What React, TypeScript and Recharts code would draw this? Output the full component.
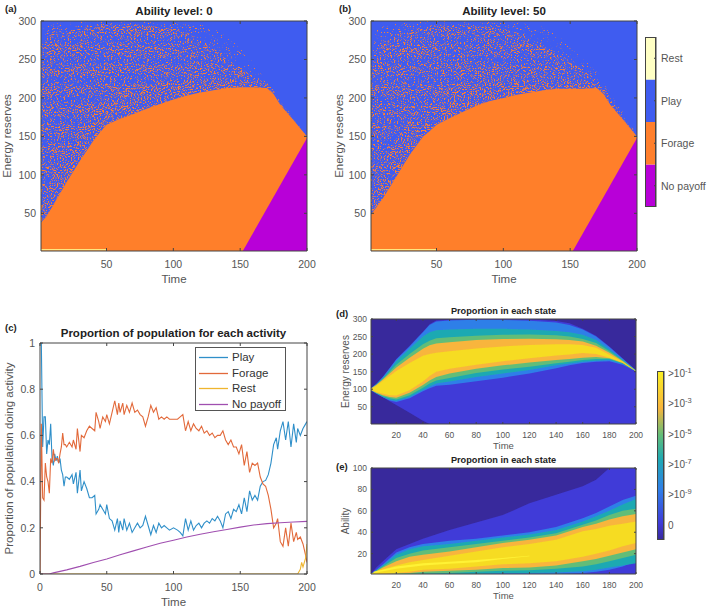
import React from 'react';
import { ComposedChart, BarChart, Bar, Area, Line, XAxis, YAxis, Legend } from 'recharts';

// ---------- panels (a) and (b): decision regions ----------
const policyTimes = [1, 5, 10, 15, 20, 25, 30, 35, 40, 45, 50, 60, 70, 80, 90, 100, 110, 120, 130, 140, 150, 160, 170, 175, 180, 190, 200];
const aForageTop = [38, 46, 60, 75, 90, 104, 118, 131, 144, 155, 165, 173, 179, 186, 192, 198, 203, 207, 210, 213, 214, 214, 213, 205, 191, 171, 150];
const aDenseTop = [70, 85, 105, 125, 140, 152, 162, 175, 185, 195, 200, 208, 212, 216, 220, 222, 224, 225, 226, 226, 225, 222, 217, 208, 193, 171, 150];
const aMidTop = [270, 280, 285, 285, 285, 288, 290, 292, 294, 296, 296, 295, 296, 294, 292, 290, 285, 275, 265, 250, 240, 228, 219, 210, 195, 172, 151];
const aSparseTop = [285, 295, 296, 297, 298, 298, 299, 299, 300, 300, 300, 300, 300, 300, 299, 299, 298, 297, 290, 280, 265, 245, 222, 212, 197, 174, 152];
const bForageTop = [48, 58, 70, 84, 98, 112, 126, 138, 150, 157, 165, 174, 182, 190, 196, 200, 204, 207, 210, 212, 212, 212, 213, 205, 191, 171, 150];
const bDenseTop = [80, 95, 115, 132, 148, 160, 172, 185, 192, 200, 205, 212, 218, 222, 225, 228, 229, 229, 229, 228, 226, 222, 217, 208, 193, 172, 150];
const bMidTop = [240, 265, 275, 280, 283, 285, 288, 290, 292, 294, 295, 295, 296, 294, 292, 290, 285, 278, 268, 258, 248, 235, 224, 214, 200, 175, 151];
const bSparseTop = [250, 288, 293, 295, 296, 297, 298, 299, 300, 300, 300, 300, 300, 300, 300, 299, 298, 296, 292, 282, 268, 250, 234, 220, 205, 180, 152];
const payoffEdgeTimes = [152, 200];
const payoffEdgeTop = [1, 148];
const restStripTimes = [1, 50];
const restStripLevel = [2.5, 2.5];
const activityNames = ['No payoff', 'Forage', 'Play', 'Rest'];

// ---------- panel (c): proportions ----------
const cTimes = [0, 1, 2, 3, 4, 5, 6, 7, 8, 9, 10, 11, 12, 13, 14, 15, 16, 17, 18, 19,
  20, 22, 24, 25, 27, 28, 30, 31, 33, 35, 37, 39, 41, 42, 44, 45, 47, 49, 50, 52,
  54, 56, 58, 59, 60, 62, 63, 65, 67, 69, 71, 73, 75, 77, 79, 81, 83, 85, 87, 89,
  91, 93, 95, 97, 100, 103, 105, 107, 109, 111, 113, 115, 117, 119, 121, 123, 125, 127, 129, 131,
  133, 135, 137, 139, 141, 143, 145, 147, 149, 151, 153, 155, 157, 159, 161, 163, 165, 167, 169, 171,
  173, 175, 177, 178, 180, 182, 184, 186, 188, 190, 192, 193, 195, 197, 199, 200];
const playShare = [1, 1, .55, .68, .68, .52, .58, .56, .65, .5, .47, .52, .49, .51, .48, .5, .45, .43, .38, .42,
  .42, .41, .43, .39, .44, .35, .45, .36, .40, .37, .33, .33, .34, .26, .28, .30, .28, .26, .30, .24,
  .23, .19, .24, .18, .23, .19, .24, .19, .22, .18, .2, .22, .2, .21, .25, .21, .17, .21, .18, .22,
  .2, .21, .2, .19, .2, .19, .18, .165, .24, .19, .23, .19, .21, .22, .2, .22, .23, .22, .24, .23,
  .25, .23, .2, .26, .27, .24, .28, .27, .3, .26, .33, .27, .36, .32, .34, .32, .38, .4, .405, .43,
  .48, .56, .59, .54, .62, .66, .58, .66, .55, .65, .57, .63, .6, .63, .65, .66];
const forageShare = [0, .65, .33, .32, .48, .42, .4, .35, .5, .48, .54, .49, .5, .5, .48, .52, .55, .61, .56, .56,
  .55, .57, .55, .58, .54, .63, .53, .6, .59, .62, .64, .63, .62, .70, .66, .63, .68, .66, .69, .65,
  .7, .75, .69, .74, .7, .74, .69, .73, .7, .74, .7, .71, .69, .68, .64, .68, .73, .7, .72, .67,
  .68, .67, .68, .67, .67, .67, .68, .69, .62, .66, .62, .65, .63, .62, .64, .61, .62, .6, .61, .59,
  .6, .6, .62, .58, .56, .58, .55, .55, .52, .56, .47, .53, .44, .48, .47, .48, .42, .39, .38, .34,
  .28, .2, .22, .24, .14, .12, .2, .12, .22, .14, .18, .15, .16, .13, .08, .05];
const restTimes = [0, 193, 195, 196, 197, 198, 199, 200];
const restShare = [0, 0, .02, .05, .03, .05, .07, .13];
const payoffTimes = [0, 7, 10, 20, 30, 40, 50, 60, 70, 80, 90, 100, 110, 120, 130, 140, 150, 160, 170, 180, 190, 200];
const payoffShare = [0, 0, .005, .018, .033, .05, .065, .083, .1, .117, .133, .146, .16, .172, .183, .193, .203, .212, .218, .222, .225, .228];

// ---------- panel (d): proportion in each energy state ----------
const dTimes = [1, 5, 10, 15, 20, 30, 40, 45, 50, 60, 80, 100, 120, 140, 150, 160, 170, 180, 190, 200];
const dBaseLo = [97, 88, 77, 66, 55, 33, 10, 1, 1, 1, 1, 1, 1, 1, 1, 1, 1, 1, 1, 1];
const dBaseHi = [103, 115, 136, 160, 186, 224, 264, 285, 296, 298, 300, 300, 299, 294, 288, 272, 252, 222, 188, 153];
const dMidHi = [103, 115, 135, 160, 185, 222, 262, 283, 293, 296, 298, 297, 295, 290, 283, 270, 250, 220, 187, 153];
const dMidLo = [97, 88, 77, 68, 64, 74, 94, 103, 110, 113, 123, 133, 145, 160, 168, 175, 178, 180, 170, 151];
const dTealHi = [103, 114, 133, 155, 180, 215, 250, 262, 268, 270, 272, 272, 270, 266, 262, 255, 240, 213, 184, 153];
const dTealLo = [97, 88, 78, 70, 67, 78, 98, 108, 116, 122, 135, 145, 155, 168, 173, 178, 181, 183, 172, 151];
const dGreenHi = [102, 113, 130, 150, 170, 200, 228, 238, 245, 248, 252, 255, 256, 254, 250, 243, 232, 208, 182, 153];
const dGreenLo = [98, 89, 80, 74, 71, 83, 104, 116, 125, 132, 146, 156, 164, 174, 178, 183, 186, 186, 174, 151];
const dOrangeHi = [102, 112, 128, 145, 162, 190, 215, 225, 230, 234, 240, 243, 244, 242, 240, 236, 224, 204, 180, 152];
const dOrangeLo = [98, 90, 83, 78, 76, 90, 112, 125, 135, 145, 158, 168, 176, 183, 186, 190, 192, 188, 175, 151];
const dYellowHi = [101, 110, 124, 138, 152, 175, 195, 200, 204, 208, 216, 222, 226, 228, 228, 226, 218, 198, 178, 152];
const dYellowLo = [99, 92, 87, 83, 82, 97, 122, 138, 150, 158, 170, 180, 188, 196, 199, 203, 200, 190, 176, 151];

// ---------- panel (e): proportion in each ability ----------
const eTimes = [1, 5, 10, 20, 30, 40, 60, 80, 100, 120, 140, 160, 170, 180, 190, 200];
const eBaseHi = [1, 7, 13, 24, 29, 34, 42, 49, 56, 67, 75, 83, 89, 100, 100, 100];
const eMidHi = [1, 5, 10, 21, 26, 29, 32, 34, 37, 40, 45, 53, 58, 64, 70, 74];
const eMidLo = [1, 1, 1, 1, 1, 1, 1, 1, 1, 1, 1, 2, 3, 5, 8, 13];
const eTealHi = [1, 4.5, 9, 19, 24, 27, 29, 32, 35, 38, 42, 50, 55, 60, 66, 71];
const eTealLo = [1, 1, 1, 1, 1, 1, 1, 1, 2, 2, 2.5, 3.5, 5, 7, 9, 11];
const eGreenHi = [1, 4, 8, 16, 20, 23, 26, 29, 32, 35, 39, 47, 51, 56, 60, 62];
const eGreenLo = [1, 1, 1, 1, 1, 1.5, 2, 3, 4, 4.5, 6, 8, 10, 13, 16, 19];
const eOrangeHi = [1, 3.5, 7, 13, 17, 19, 22, 26, 30, 33, 37, 45, 48, 52, 55, 57];
const eOrangeLo = [1, 1, 1, 1.5, 2, 3, 4, 5, 6.5, 7, 9, 13, 15, 18, 21, 24];
const eYellowHi = [1, 3, 5.5, 9, 12, 14, 18, 22, 26, 29, 33, 41, 43, 46, 48, 50];
const eYellowLo = [1, 1, 1.5, 2, 3, 5, 6, 8, 10, 11, 13, 17, 20, 23, 27, 30];
const eCoreTimes = [3, 20, 40, 60, 80, 100, 120];
const eCoreHi = [3, 8, 11, 12.5, 14, 16, 18];
const eCoreLo = [2, 6, 9, 10.5, 12, 15, 17.5];

// ---------- colour bar of panels (d, e) ----------
const scaleTicks = [-1, -3, -5, -7, -9, -11];
const scaleNames: Record<number, string> = { '-1': '-1', '-3': '-3', '-5': '-5', '-7': '-7', '-9': '-9' };

const C = {
  blue: '#3f5cf0', orange: '#ff7f2c', purple: '#b800d8', rest: '#ffffc4', strip: '#ffe680',
  navy: '#38299c', deep: '#3f3bd8', mid: '#2f7fe8', teal: '#1fa9b2', green: '#62bd78', amber: '#f8b53c', yellow: '#f6dc20', core: '#fff234',
  text: '#555555', frame: '#444444',
};
const FONT = '"Liberation Sans", Arial, sans-serif';

const zip = (xs: number[], lo: number[], hi: number[]) => xs.map((t, i) => ({ t, band: [lo[i], hi[i]] }));
const flat = (xs: number[], v: number) => xs.map(() => v);

const Speck = ({ id, thr, seed }: { id: string; thr: number; seed: number }) => {
  const k = 9;
  return (
    <filter id={id} x="0" y="0" width="100%" height="100%" colorInterpolationFilters="sRGB">
      <feTurbulence type="fractalNoise" baseFrequency="0.7 1.05" numOctaves={2} seed={seed} />
      <feColorMatrix values={`0 0 0 0 0  0 0 0 0 0  0 0 0 0 0  ${k} 0 0 0 ${-k * thr}`} result="n" />
      <feComposite in="SourceGraphic" in2="n" operator="in" />
      <feGaussianBlur stdDeviation={0.4} />
    </filter>
  );
};

const Defs = () => (
  <svg width={0} height={0} style={{ position: 'absolute' }}>
    <defs>
      <Speck id="sa1" thr={0.52} seed={3} />
      <Speck id="sa2" thr={0.57} seed={8} />
      <Speck id="sa3" thr={0.65} seed={5} />
      <Speck id="sb1" thr={0.52} seed={13} />
      <Speck id="sb2" thr={0.57} seed={21} />
      <Speck id="sb3" thr={0.65} seed={34} />
      <filter id="soft" x="-2%" y="-2%" width="104%" height="104%">
        <feGaussianBlur stdDeviation={0.7} />
      </filter>
      <filter id="edge" x="-2%" y="-2%" width="104%" height="104%">
        <feGaussianBlur stdDeviation={0.4} />
      </filter>
      <linearGradient id="parula" x1="0" y1="1" x2="0" y2="0">
        <stop offset="0" stopColor="#38299c" />
        <stop offset="0.1" stopColor="#3f3bd8" />
        <stop offset="0.3" stopColor="#2f7fe8" />
        <stop offset="0.48" stopColor="#1fa9b2" />
        <stop offset="0.62" stopColor="#62bd78" />
        <stop offset="0.78" stopColor="#f8b53c" />
        <stop offset="1" stopColor="#faf022" />
      </linearGradient>
    </defs>
  </svg>
);

const Box = ({ left, top, width, height, children }: any) => (
  <div style={{ position: 'absolute', left, top, width, height }}>{children}</div>
);

const PanelTag = ({ left, top, text }: { left: number; top: number; text: string }) => (
  <div style={{ position: 'absolute', left, top, fontFamily: FONT, fontWeight: 700, fontSize: 9.5, lineHeight: '12px', color: '#222' }}>{text}</div>
);

const frameAxes = (opts: any) => {
  const { xDomain, yDomain, xTicks, yTicks, title, xLabel, yLabel, yw, xh, tf, lf, ylf, titleF, titleOff, yLabelDx, xLabelOff, tickLen, xGap, yGap } = opts;
  const tickStyle = { fill: C.text, fontSize: tf, fontFamily: FONT };
  const labelStyle = { fill: C.text, fontSize: lf, fontFamily: FONT };
  return [
    <XAxis key="xb" xAxisId={0} dataKey="t" type="number" domain={xDomain} ticks={xTicks} allowDataOverflow interval={0}
      height={xh} tick={tickStyle} tickSize={-tickLen} tickMargin={tickLen + xGap} stroke={C.frame} tickLine={{ stroke: C.frame }}
      label={{ value: xLabel, position: 'insideBottom', offset: xLabelOff, style: labelStyle }} />,
    <XAxis key="xt" xAxisId="top" orientation="top" dataKey="t" type="number" domain={xDomain} ticks={xTicks} allowDataOverflow interval={0}
      height={1} tickFormatter={() => ''} tickSize={-tickLen} stroke={C.frame} tickLine={{ stroke: C.frame }}
      label={{ value: title, position: 'top', offset: titleOff, style: { fill: '#222', fontSize: titleF, fontWeight: 700, fontFamily: FONT } }} />,
    <YAxis key="yl" yAxisId={0} type="number" domain={yDomain} ticks={yTicks} allowDataOverflow interval={0}
      width={yw} tick={tickStyle} tickSize={-tickLen} tickMargin={tickLen + yGap} stroke={C.frame} tickLine={{ stroke: C.frame }}
      label={{ value: yLabel, angle: -90, position: 'insideLeft', offset: 0, dx: yLabelDx, style: { fill: C.text, fontSize: ylf || lf, fontFamily: FONT, textAnchor: 'middle' } }} />,
    <YAxis key="yr" yAxisId="right" orientation="right" type="number" domain={yDomain} ticks={yTicks} allowDataOverflow interval={0}
      width={1} tickFormatter={() => ''} tickSize={-tickLen} stroke={C.frame} tickLine={{ stroke: C.frame }} />,
  ];
};

const band = (key: string, data: any[], fill: string, filter?: string) => (
  <Area key={key} data={data} dataKey="band" type="linear" fill={fill} fillOpacity={1} stroke="none" dot={false} activeDot={false}
    isAnimationActive={false} {...(filter ? { filter: `url(#${filter})` } : {})} />
);

const PolicyPanel = ({ left, width, plotLeft, title, prefix, forage, dense, mid, sparse, labelDx }: any) => {
  const strip = restStripTimes.map((t, i) => ({ t, level: restStripLevel[i] }));
  const base = zip(policyTimes, flat(policyTimes, 1), flat(policyTimes, 300));
  return (
    <Box left={left} top={0} width={width} height={300}>
      <ComposedChart width={width} height={300} margin={{ top: 20, right: width - plotLeft - 266 - 1, bottom: 15, left: 0 }} data={base}>
        {band('bg', base, C.blue)}
        {band('sp3', zip(policyTimes, dense, sparse), C.orange, `s${prefix}3`)}
        {band('sp2', zip(policyTimes, dense, mid), C.orange, `s${prefix}2`)}
        {band('sp1', zip(policyTimes, forage, dense), C.orange, `s${prefix}1`)}
        {band('forage', zip(policyTimes, flat(policyTimes, 1), forage), C.orange, 'edge')}
        {band('payoff', zip(payoffEdgeTimes, flat(payoffEdgeTimes, 1), payoffEdgeTop), C.purple, 'edge')}
        <Line data={strip} dataKey="level" stroke={C.strip} strokeWidth={1.5} dot={false} activeDot={false} isAnimationActive={false} />
        {frameAxes({
          xDomain: [1, 200], yDomain: [1, 300], xTicks: [50, 100, 150, 200], yTicks: [50, 100, 150, 200, 250, 300],
          title, xLabel: 'Time', yLabel: 'Energy reserves', yw: plotLeft, xh: 34, tf: 10.5, lf: 11.5, titleF: 11.5, titleOff: 5, yLabelDx: labelDx, xLabelOff: 2, tickLen: 3, xGap: 10, yGap: 5,
        })}
      </ComposedChart>
    </Box>
  );
};

const ActivityTick = ({ x, y, payload }: any) => (
  <text x={x} y={y} dy={4} fill={C.text} fontFamily={FONT} fontSize={10.5} textAnchor="start">{activityNames[Math.floor(payload.value)]}</text>
);

const activityBar = [{ k: 'bar', a: 1, b: 1, c: 1, d: 1 }];
const ActivityBar = () => (
  <Box left={640} top={0} width={69} height={240}>
    <BarChart width={69} height={240} data={activityBar} margin={{ top: 37, right: 52, bottom: 33, left: 5 }} barCategoryGap={0}>
      <XAxis dataKey="k" hide />
      <YAxis orientation="right" type="number" domain={[0, 4]} ticks={[0.5, 1.5, 2.5, 3.5]} interval={0} width={1}
        tick={<ActivityTick />} tickSize={-2} tickMargin={7} stroke={C.frame} tickLine={{ stroke: C.frame }} />
      <Bar dataKey="a" stackId="s" fill={C.purple} isAnimationActive={false} />
      <Bar dataKey="b" stackId="s" fill={C.orange} isAnimationActive={false} />
      <Bar dataKey="c" stackId="s" fill={C.blue} isAnimationActive={false} />
      <Bar dataKey="d" stackId="s" fill={C.rest} stroke="none" isAnimationActive={false} />
    </BarChart>
    <div style={{ position: 'absolute', left: 5, top: 37, width: 11, height: 170, boxSizing: 'border-box', border: `1px solid ${C.frame}` }} />
  </Box>
);

const LegendBox = ({ payload }: any) => (
  <div style={{ width: 91, height: 64, boxSizing: 'border-box', border: '1px solid #555', background: '#fff', padding: '2px 0 0 3px', fontFamily: FONT, fontSize: 11.5, color: '#333', lineHeight: '15.5px', textAlign: 'left' }}>
    {(payload || []).map((p: any) => (
      <div key={p.value} style={{ display: 'flex', alignItems: 'center', height: 15.5 }}>
        <svg width={29} height={3} style={{ marginRight: 4, flex: 'none' }}>
          <line x1={0} x2={29} y1={1.5} y2={1.5} stroke={p.color} strokeWidth={1.3} />
        </svg>
        <span>{p.value}</span>
      </div>
    ))}
  </div>
);

const ProportionPanel = () => {
  const main = cTimes.map((t, i) => ({ t, play: playShare[i], forage: forageShare[i] }));
  const rest = restTimes.map((t, i) => ({ t, rest: restShare[i] }));
  const payoff = payoffTimes.map((t, i) => ({ t, payoff: payoffShare[i] }));
  return (
    <Box left={0} top={310} width={330} height={300}>
      <ComposedChart width={330} height={300} data={main} margin={{ top: 32, right: 22, bottom: 0, left: 0 }}>
        <Line data={main} name="Play" dataKey="play" stroke="#2f8fc9" strokeWidth={1.1} dot={false} activeDot={false} isAnimationActive={false} />
        <Line data={main} name="Forage" dataKey="forage" stroke="#e2693a" strokeWidth={1.1} dot={false} activeDot={false} isAnimationActive={false} />
        <Line data={rest} name="Rest" dataKey="rest" stroke="#efb52e" strokeWidth={1.1} dot={false} activeDot={false} isAnimationActive={false} />
        <Line data={payoff} name="No payoff" dataKey="payoff" stroke="#a04fb0" strokeWidth={1.1} dot={false} activeDot={false} isAnimationActive={false} />
        {frameAxes({
          xDomain: [0, 200], yDomain: [0, 1], xTicks: [0, 50, 100, 150, 200], yTicks: [0, 0.2, 0.4, 0.6, 0.8, 1],
          title: 'Proportion of population for each activity', xLabel: 'Time', yLabel: 'Proportion of population doing activity', yw: 40, xh: 36, tf: 10.5, lf: 11.5, titleF: 11.5, titleOff: 5, yLabelDx: 9, xLabelOff: 4, tickLen: 3, xGap: 10, yGap: 5,
        })}
        <Legend layout="vertical" align="center" verticalAlign="middle" itemSorter={null} content={<LegendBox />} wrapperStyle={{ left: 195, top: 37, width: 91, height: 64 }} />
      </ComposedChart>
    </Box>
  );
};

const small = { tf: 8.5, lf: 9.5, ylf: 10, titleF: 9.2, titleOff: 4, xh: 26, tickLen: 2, yLabelDx: 5, xLabelOff: 1, xGap: 8, yGap: 4 };
const everyTwenty = [20, 40, 60, 80, 100, 120, 140, 160, 180, 200];

const EnergyPanel = () => {
  const base = zip(dTimes, flat(dTimes, 1), flat(dTimes, 300));
  return (
    <Box left={340} top={300} width={330} height={160}>
      <ComposedChart width={330} height={160} data={base} margin={{ top: 18, right: 33, bottom: 10, left: 0 }}>
        {band('bg', base, C.navy)}
        {band('base', zip(dTimes, dBaseLo, dBaseHi), C.deep, 'edge')}
        {band('mid', zip(dTimes, dMidLo, dMidHi), C.mid, 'soft')}
        {band('teal', zip(dTimes, dTealLo, dTealHi), C.teal, 'soft')}
        {band('green', zip(dTimes, dGreenLo, dGreenHi), C.green, 'soft')}
        {band('amber', zip(dTimes, dOrangeLo, dOrangeHi), C.amber, 'soft')}
        {band('yellow', zip(dTimes, dYellowLo, dYellowHi), C.yellow, 'soft')}
        {frameAxes({
          ...small, xDomain: [1, 200], yDomain: [1, 300], xTicks: everyTwenty, yTicks: [50, 100, 150, 200, 250, 300],
          title: 'Proportion in each state', xLabel: 'Time', yLabel: 'Energy reserves', yw: 31,
        })}
      </ComposedChart>
    </Box>
  );
};

const AbilityPanel = () => {
  const base = zip(eTimes, flat(eTimes, 1), flat(eTimes, 100));
  return (
    <Box left={340} top={450} width={330} height={160}>
      <ComposedChart width={330} height={160} data={base} margin={{ top: 17, right: 33, bottom: 10, left: 0 }}>
        {band('bg', base, C.navy)}
        {band('base', zip(eTimes, flat(eTimes, 1), eBaseHi), C.deep, 'edge')}
        {band('mid', zip(eTimes, eMidLo, eMidHi), C.mid, 'soft')}
        {band('teal', zip(eTimes, eTealLo, eTealHi), C.teal, 'soft')}
        {band('green', zip(eTimes, eGreenLo, eGreenHi), C.green, 'soft')}
        {band('amber', zip(eTimes, eOrangeLo, eOrangeHi), C.amber, 'soft')}
        {band('yellow', zip(eTimes, eYellowLo, eYellowHi), C.yellow, 'soft')}
        {band('core', zip(eCoreTimes, eCoreLo, eCoreHi), C.core, 'soft')}
        {frameAxes({
          ...small, xDomain: [1, 200], yDomain: [1, 100], xTicks: everyTwenty, yTicks: [20, 40, 60, 80, 100],
          title: 'Proportion in each state', xLabel: 'Time', yLabel: 'Ability', yw: 31,
        })}
      </ComposedChart>
    </Box>
  );
};

const ScaleTick = ({ x, y, payload }: any) => {
  const v = payload.value;
  const exp = scaleNames[v];
  return (
    <text x={x} y={y} dy={4} fill={C.text} fontFamily={FONT} fontSize={10} textAnchor="start">
      {exp ? <><tspan>&gt;10</tspan><tspan dy={-4} fontSize={7.5}>{exp}</tspan></> : '0'}
    </text>
  );
};

const scaleBar = [{ k: 'scale', range: [-12, -0.87] }];
const ScaleBar = () => (
  <Box left={650} top={360} width={59} height={190}>
    <BarChart width={59} height={190} data={scaleBar} margin={{ top: 11, right: 44, bottom: 10, left: 7 }} barCategoryGap={0}>
      <XAxis dataKey="k" hide />
      <YAxis orientation="right" type="number" domain={[-12, -0.87]} ticks={scaleTicks} interval={0} width={1}
        tick={<ScaleTick />} tickSize={0} tickMargin={4} stroke={C.frame} tickLine={false} allowDataOverflow />
      <Bar dataKey="range" fill="url(#parula)" isAnimationActive={false} />
    </BarChart>
    <div style={{ position: 'absolute', left: 7, top: 11, width: 7, height: 169, boxSizing: 'border-box', border: `1px solid ${C.frame}` }} />
  </Box>
);

export default function App() {
  return (
    <div style={{ position: 'absolute', left: 0, top: 0, width: 709, height: 610, background: '#fff', overflow: 'hidden' }}>
      <Defs />
      <PolicyPanel left={0} width={330} plotLeft={41} title="Ability level: 0" prefix="a" labelDx={7}
        forage={aForageTop} dense={aDenseTop} mid={aMidTop} sparse={aSparseTop} />
      <PolicyPanel left={330} width={322} plotLeft={41} title="Ability level: 50" prefix="b" labelDx={9}
        forage={bForageTop} dense={bDenseTop} mid={bMidTop} sparse={bSparseTop} />
      <ActivityBar />
      <ProportionPanel />
      <EnergyPanel />
      <AbilityPanel />
      <ScaleBar />
      <PanelTag left={5} top={3} text="(a)" />
      <PanelTag left={339} top={3} text="(b)" />
      <PanelTag left={5} top={322} text="(c)" />
      <PanelTag left={336} top={308} text="(d)" />
      <PanelTag left={336} top={461} text="(e)" />
    </div>
  );
}
